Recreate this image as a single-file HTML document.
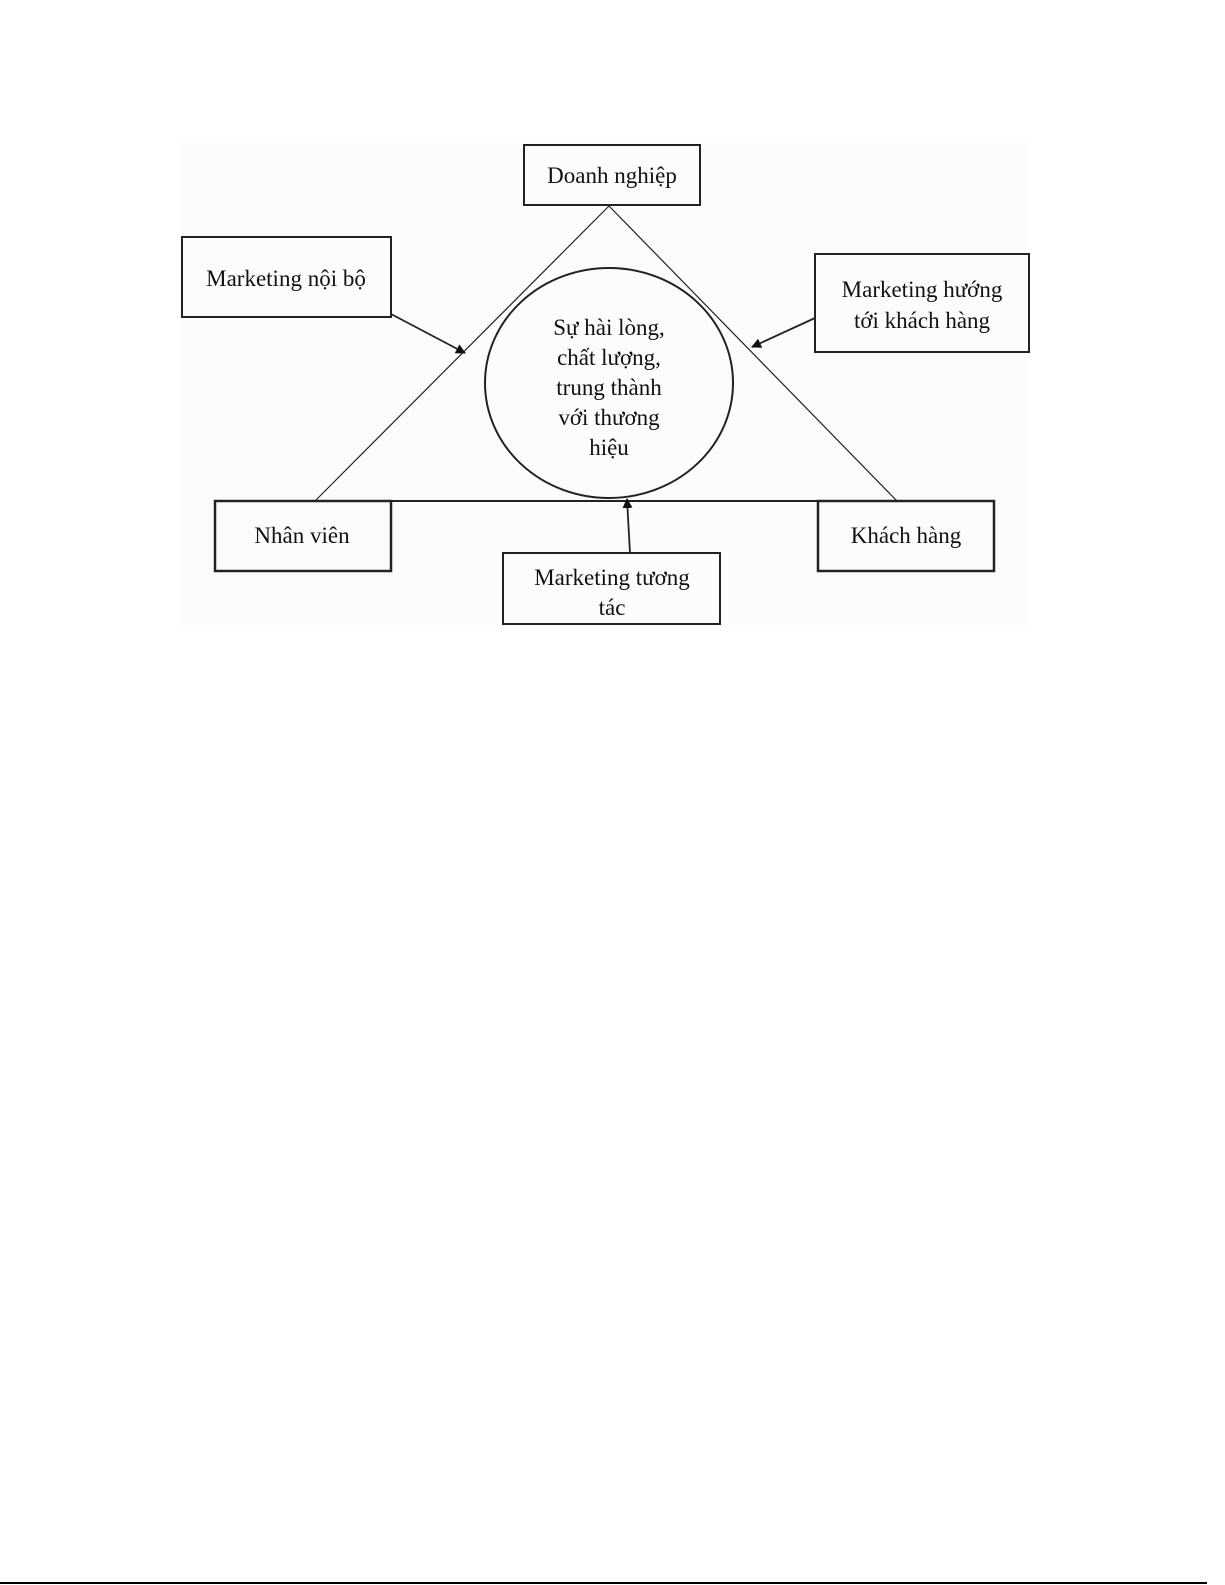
<!DOCTYPE html>
<html><head><meta charset="utf-8"><style>
html,body{margin:0;padding:0;background:#fff;}
svg{display:block;}
text{font-family:"Liberation Serif","DejaVu Serif",serif;font-size:23px;fill:#111;}
</style></head><body>
<svg width="1225" height="1585" xmlns="http://www.w3.org/2000/svg">
<defs><marker id="a" markerWidth="10" markerHeight="10" refX="9" refY="5" orient="auto" markerUnits="userSpaceOnUse"><path d="M0,0 L10,5 L0,10 z" fill="#111"/></marker></defs>
<rect x="180" y="142" width="850" height="484" fill="#fcfcfc"/>
<g stroke="#222" fill="none">
<line x1="609" y1="206" x2="315" y2="501" stroke-width="1.2"/>
<line x1="609" y1="206" x2="897" y2="501" stroke-width="1.2"/>
<line x1="390" y1="501" x2="818" y2="501" stroke-width="2"/>
<ellipse cx="609" cy="383" rx="124" ry="115" stroke-width="2"/>
<rect x="524" y="145" width="176" height="60" stroke-width="2"/>
<rect x="182" y="237" width="209" height="80" stroke-width="2"/>
<rect x="815" y="254" width="214" height="98" stroke-width="2"/>
<rect x="215" y="501" width="176" height="70" stroke-width="2.5"/>
<rect x="818" y="501" width="176" height="70" stroke-width="2.5"/>
<rect x="503" y="553" width="217" height="71" stroke-width="2"/>
<line x1="391" y1="314" x2="465" y2="353" stroke-width="1.8" marker-end="url(#a)"/>
<line x1="815" y1="318" x2="752" y2="347" stroke-width="1.8" marker-end="url(#a)"/>
<line x1="630" y1="553" x2="627" y2="499" stroke-width="1.8" marker-end="url(#a)"/>
</g>
<text x="612" y="183" text-anchor="middle">Doanh nghiệp</text>
<text x="286" y="286" text-anchor="middle">Marketing nội bộ</text>
<text x="922" y="297" text-anchor="middle">Marketing hướng</text>
<text x="922" y="328" text-anchor="middle">tới khách hàng</text>
<text x="302" y="543" text-anchor="middle">Nhân viên</text>
<text x="906" y="543" text-anchor="middle">Khách hàng</text>
<text x="612" y="585" text-anchor="middle">Marketing tương</text>
<text x="612" y="615" text-anchor="middle">tác</text>
<text x="609" y="335" text-anchor="middle">Sự hài lòng,</text>
<text x="609" y="365" text-anchor="middle">chất lượng,</text>
<text x="609" y="395" text-anchor="middle">trung thành</text>
<text x="609" y="425" text-anchor="middle">với thương</text>
<text x="609" y="455" text-anchor="middle">hiệu</text>
<line x1="0" y1="1583" x2="1207" y2="1583" stroke="#000" stroke-width="2"/>
</svg>
</body></html>
